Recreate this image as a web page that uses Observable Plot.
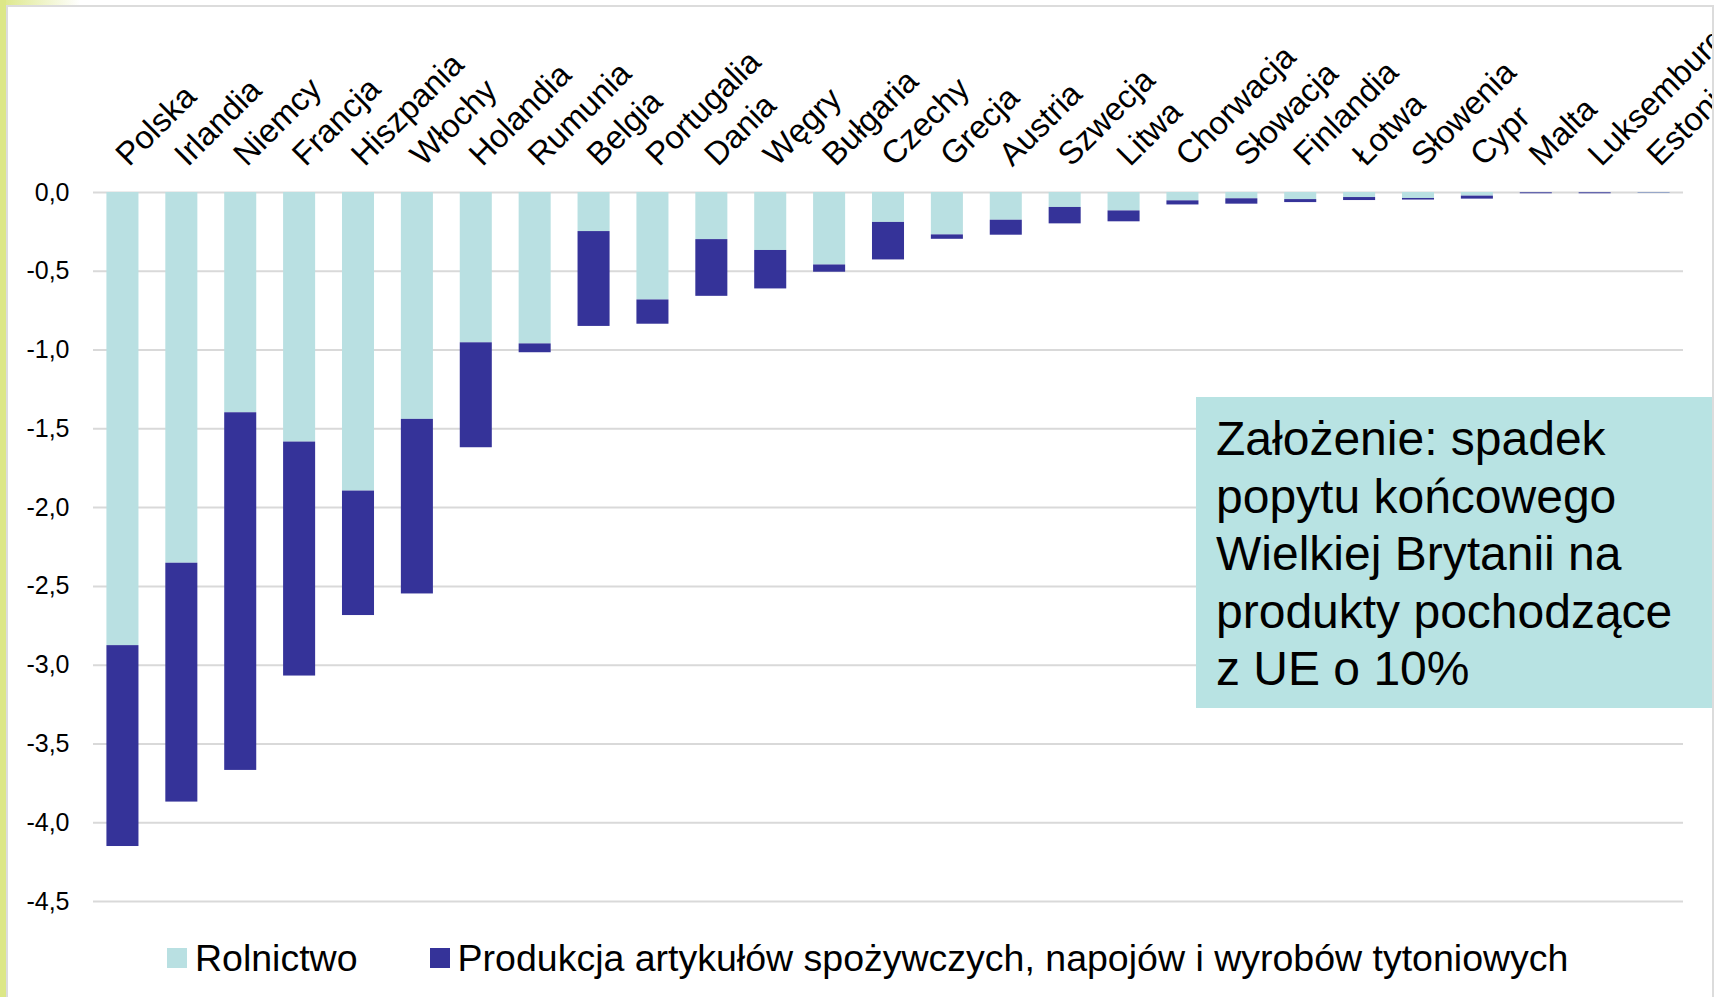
<!DOCTYPE html>
<html>
<head>
<meta charset="utf-8">
<script src="https://cdn.jsdelivr.net/npm/d3@7"></script>
<script src="https://cdn.jsdelivr.net/npm/@observablehq/plot@0.6"></script>
<style>
  html, body { margin: 0; padding: 0; background: #fff; }
  #frame { position: relative; width: 1721px; height: 997px; overflow: hidden; background: #fff;
           font-family: "Liberation Sans", Arial, sans-serif; }
  #strip { position: absolute; left: 0; top: 0; width: 6px; height: 997px; background: #DCE787; }
  #topgrad { position: absolute; left: 0; top: 0; width: 80px; height: 5px;
             background: linear-gradient(to right, #DCE787, rgba(255,255,255,0)); }
  #leftline { position: absolute; left: 6px; top: 5px; width: 2px; height: 992px; background: #DCDCDC; }
  #topline { position: absolute; left: 6px; top: 5px; width: 1708px; height: 2px; background: #DCDCDC; }
  #rightline { position: absolute; left: 1712px; top: 5px; width: 2px; height: 992px; background: #DCDCDC; }
  #chart { position: absolute; left: 0; top: 0; width: 1712px; height: 925px; overflow: hidden; }
  #chart svg { overflow: hidden; }
  #box { position: absolute; left: 1196px; top: 397px; width: 516px; height: 311px; background: #B8E3E3;
         box-sizing: border-box; padding: 13px 0 0 20px; font-size: 48px; line-height: 57.5px; color: #000;
         white-space: nowrap; }
  #legend { position: absolute; left: 167px; top: 925px; height: 66px; display: flex; align-items: center;
            font-size: 37.5px; color: #000; white-space: nowrap; }
  .item { display: flex; align-items: center; }
  .sw { width: 20px; height: 20px; margin-right: 8px; }
</style>
</head>
<body>
<div id="frame">
  <div id="chart"></div>
  <div id="box">Założenie: spadek<br>popytu końcowego<br>Wielkiej Brytanii na<br>produkty pochodzące<br>z UE o 10%</div>
  <div id="legend"></div>
  <div id="strip"></div>
  <div id="topgrad"></div>
  <div id="leftline"></div>
  <div id="topline"></div>
  <div id="rightline"></div>
</div>
<script>
const countries = ["Polska","Irlandia","Niemcy","Francja","Hiszpania","Włochy","Holandia","Rumunia","Belgia",
  "Portugalia","Dania","Węgry","Bułgaria","Czechy","Grecja","Austria","Szwecja","Litwa","Chorwacja",
  "Słowacja","Finlandia","Łotwa","Słowenia","Cypr","Malta","Luksemburg","Estonia"];
const seriesNames = ["Rolnictwo", "Produkcja artykułów spożywczych, napojów i wyrobów tytoniowych"];
const seriesColors = ["#B9E0E2", "#353399"];
const rolnictwo = [-2.876,-2.353,-1.398,-1.584,-1.895,-1.440,-0.954,-0.961,-0.248,
  -0.682,-0.299,-0.368,-0.460,-0.190,-0.269,-0.176,-0.095,-0.117,-0.053,
  -0.040,-0.045,-0.032,-0.038,-0.023,-0.002,-0.002,-0.004];
const produkcja = [-1.275,-1.516,-2.270,-1.485,-0.790,-1.108,-0.666,-0.056,-0.602,
  -0.154,-0.360,-0.244,-0.046,-0.238,-0.028,-0.095,-0.104,-0.069,-0.026,
  -0.034,-0.019,-0.019,-0.010,-0.019,-0.006,-0.006,-0.002];
const yTicks = [0,-0.5,-1,-1.5,-2,-2.5,-3,-3.5,-4,-4.5];

const data = [];
countries.forEach((c, i) => {
  data.push({country: c, series: seriesNames[0], value: rolnictwo[i]});
  data.push({country: c, series: seriesNames[1], value: produkcja[i]});
});

const fmt = d => d.toFixed(1).replace(".", ",");

const chart = Plot.plot({
  width: 1712,
  height: 925,
  marginLeft: 93,
  marginRight: 29,
  marginTop: 192,
  marginBottom: 24,
  style: {fontFamily: "'Liberation Sans', Arial, sans-serif", color: "#000", background: "transparent"},
  x: {domain: countries, axis: null, paddingInner: 0.456, paddingOuter: 0.228, round: false},
  y: {domain: [-4.5, 0], axis: null, label: null},
  color: {domain: seriesNames, range: seriesColors},
  marks: [
    Plot.ruleY(yTicks, {stroke: "#D9D9D9", strokeWidth: 2}),
    Plot.barY(data, {x: "country", y: "value", fill: "series"}),
    Plot.axisY({ticks: yTicks, tickFormat: fmt, tickSize: 0, tickPadding: 24, fontSize: 25, fill: "#000", label: null}),
    Plot.text(countries, {x: d => d, y: 0, text: d => d, rotate: -45, textAnchor: "start",
      lineAnchor: "bottom", dx: 6, dy: -25, fontSize: 32.5, fill: "#000"})
  ]
});
document.getElementById("chart").appendChild(chart);

const legend = document.getElementById("legend");
seriesNames.forEach((s, i) => {
  const it = document.createElement("div");
  it.className = "item";
  if (i > 0) it.style.marginLeft = "72px";
  const sw = document.createElement("div");
  sw.className = "sw";
  sw.style.background = seriesColors[i];
  const t = document.createElement("span");
  t.textContent = s;
  it.appendChild(sw); it.appendChild(t);
  legend.appendChild(it);
});
</script>
</body>
</html>
